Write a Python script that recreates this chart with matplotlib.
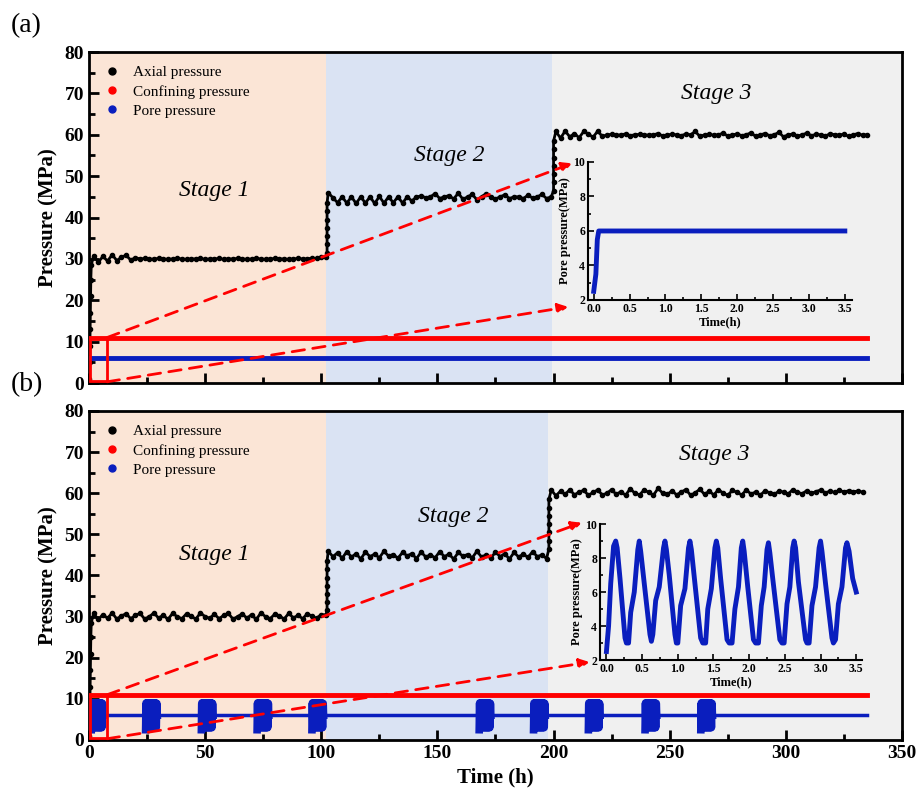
import numpy as np
import matplotlib
matplotlib.use("Agg")
import matplotlib.pyplot as plt
from matplotlib.lines import Line2D
from matplotlib.patches import Rectangle, ConnectionPatch

plt.rcParams["font.family"] = ["Liberation Serif", "DejaVu Serif"]

# ---- data ----
stage_edges_a = [0, 102, 199.5, 350]
stage_edges_b = [0, 102, 197.5, 350]
stage_colors = ["#FBE5D6", "#DAE3F3", "#F0F0F0"]
stage_names = ["Stage 1", "Stage 2", "Stage 3"]
stage_text_a = [(54, 46.5), (155, 55), (270, 70)]
stage_text_b = [(54, 45), (157, 54.3), (269, 69.3)]

confining = 11.0
pore_base = 6.0
t_end = 335

# loading ramp / stage jumps (hours, MPa)
ramp_t = [0.2, 0.3, 0.4, 0.5, 0.6, 0.7, 0.8, 1.0]
ramp_p = [1.0, 5.0, 9.0, 13.0, 17.0, 21.0, 25.0, 28.5]
jump12_p = [31.5, 33.5, 35.5, 37.5, 39.5, 41.5, 43.5]
jump23_p = [46.5, 48.5, 50.5, 52.5, 54.5, 56.5, 58.5]

# axial pressure, panel (a), sampled every 2 h
axial_a_s1 = [30.8, 29.2, 30.6, 29.5, 31.0, 29.6, 30.4, 30.9, 29.7, 30.3,
              30.0, 30.1, 29.9, 30.0, 30.1, 30.0, 29.9, 30.0, 30.1, 30.0,
              29.9, 30.0, 30.0, 30.1, 29.9, 30.0, 30.0, 30.1, 29.9, 30.0,
              30.0, 30.1, 30.0, 29.9, 30.0, 30.1, 30.0, 29.9, 30.0, 30.1,
              30.0, 30.0, 29.9, 30.0, 30.1, 30.0, 30.0, 30.2, 30.1, 30.4, 30.5]
axial_a_s2 = [46.0, 44.8, 43.6, 45.0, 43.5, 45.0, 43.4, 45.0, 43.5, 45.0,
              43.4, 45.1, 43.5, 45.0, 43.6, 45.0, 43.5, 45.0, 44.0, 45.0,
              45.2, 44.8, 45.0, 45.8, 44.6, 45.0, 45.3, 44.5, 45.9, 44.4,
              45.0, 45.6, 44.3, 45.0, 45.8, 45.0, 44.5, 45.0, 45.5, 44.6,
              45.0, 45.0, 44.6, 45.4, 44.7, 45.0, 45.6, 44.6, 45.0]
axial_a_s3 = [60.8, 59.2, 60.9, 59.5, 60.3, 59.3, 60.8, 60.2, 59.4, 60.9,
              59.6, 60.0, 60.1, 59.9, 60.0, 60.2, 59.8, 60.0, 60.1, 60.0,
              59.9, 60.0, 60.3, 59.7, 60.0, 60.1, 60.0, 59.8, 60.2, 60.0,
              60.8, 59.6, 60.0, 60.1, 59.9, 60.0, 60.4, 59.7, 60.0, 60.2,
              59.8, 60.0, 60.5, 59.6, 60.0, 60.3, 59.8, 60.0, 60.6, 59.5,
              60.0, 60.2, 59.7, 60.0, 60.4, 59.8, 60.1, 60.0, 59.6, 60.3,
              60.0, 59.9, 60.2, 59.6, 60.0, 60.3, 59.9, 60.0]

# axial pressure, panel (b), sampled every 2 h
axial_b_s1 = [30.8, 29.3, 30.5, 29.6, 30.9, 29.4, 30.2, 30.7, 29.5, 30.3,
              30.8, 29.4, 30.0, 30.9, 29.6, 30.4, 29.3, 30.8, 30.0, 29.5,
              30.7, 30.1, 29.4, 30.9, 30.0, 29.6, 30.6, 29.5, 30.3, 30.8,
              29.4, 30.0, 30.7, 29.6, 30.5, 29.3, 30.9, 30.0, 29.5, 30.6,
              30.2, 29.4, 30.8, 29.7, 30.3, 29.5, 30.7, 30.1, 29.6, 30.5, 30.4]
axial_b_s2 = [45.9, 44.6, 45.5, 44.2, 45.8, 44.5, 45.3, 44.0, 45.7, 44.6,
              45.2, 44.3, 45.9, 44.7, 45.1, 44.2, 45.6, 44.8, 45.3, 44.1,
              45.7, 44.5, 45.0, 44.3, 45.8, 44.6, 45.2, 44.0, 45.6, 44.7,
              45.1, 44.3, 45.9, 44.5, 45.0, 44.2, 45.7, 44.6, 45.3, 44.0,
              45.6, 44.5, 45.2, 44.4, 45.8, 44.6, 45.0, 44.1]
axial_b_s3 = [60.8, 59.4, 60.5, 59.7, 60.9, 59.6, 60.3, 60.7, 59.5, 60.2,
              60.8, 59.6, 60.0, 60.9, 59.7, 60.4, 59.5, 61.1, 60.0, 59.6,
              60.8, 60.2, 59.5, 61.2, 60.0, 59.7, 60.6, 59.6, 60.3, 60.9,
              59.5, 60.1, 61.0, 59.7, 60.5, 59.6, 60.9, 60.0, 59.5, 60.7,
              60.2, 59.6, 60.8, 59.8, 60.3, 59.5, 60.6, 60.1, 59.7, 60.5,
              60.3, 59.8, 60.9, 60.2, 59.9, 60.6, 60.0, 60.4, 60.8, 60.1,
              60.5, 60.2, 60.7, 60.3, 60.6, 60.4, 60.5, 60.3]

# inset (a): constant pore pressure
inset_a_t = [0.0, 0.03, 0.05, 0.07, 3.5]
inset_a_p = [2.5, 3.5, 5.5, 6.0, 6.0]

# inset (b): cyclic pore pressure
inset_b_t = [0.00, 0.03, 0.06, 0.10, 0.13, 0.15, 0.19, 0.26, 0.28, 0.31,
             0.34, 0.39, 0.44, 0.46, 0.48, 0.53, 0.61, 0.63, 0.65, 0.69,
             0.74, 0.80, 0.82, 0.84, 0.88, 0.96, 0.98, 1.00, 1.04, 1.10,
             1.15, 1.17, 1.19, 1.24, 1.32, 1.35, 1.39, 1.42, 1.47, 1.52,
             1.54, 1.56, 1.60, 1.69, 1.72, 1.76, 1.80, 1.85, 1.89, 1.91,
             1.93, 1.98, 2.06, 2.09, 2.13, 2.17, 2.21, 2.25, 2.27, 2.29,
             2.33, 2.43, 2.46, 2.49, 2.53, 2.57, 2.61, 2.63, 2.65, 2.69,
             2.79, 2.81, 2.84, 2.88, 2.93, 2.98, 3.00, 3.02, 3.07, 3.16,
             3.18, 3.21, 3.25, 3.30, 3.35, 3.37, 3.40, 3.45, 3.50]
inset_b_p = [2.5, 4.0, 6.5, 8.7, 9.0, 8.6, 6.8, 3.3, 3.0, 3.0,
             4.8, 6.0, 8.5, 9.0, 8.4, 6.5, 3.5, 3.1, 3.5, 5.5,
             6.3, 8.6, 9.0, 8.5, 7.0, 3.5, 3.0, 3.0, 5.2, 6.2,
             8.6, 9.0, 8.5, 6.5, 3.3, 3.0, 3.0, 5.0, 6.2, 8.6,
             9.0, 8.6, 6.8, 3.2, 3.0, 3.0, 5.0, 6.3, 8.6, 9.0,
             8.4, 6.3, 3.2, 3.0, 3.0, 5.2, 6.3, 8.5, 8.9, 8.3,
             6.8, 3.2, 3.0, 3.0, 5.3, 6.3, 8.6, 9.0, 8.6, 6.6,
             3.2, 3.0, 3.0, 5.2, 6.3, 8.6, 9.0, 8.4, 6.5, 3.3,
             3.0, 3.2, 5.3, 6.3, 8.6, 8.9, 8.4, 6.8, 6.0]

# start times of the cyclic pore-pressure episodes in panel (b)
burst_start = [1.0, 24.4, 48.4, 72.4, 96.0, 168.0, 191.4, 215.0, 239.4, 263.4]
burst_span = 5.0  # hours covered by one episode on the main time axis

BLUE = "#0A1EBE"
RED = "#FF0000"


def axial_series(s1, s2, s3, jump2, jump3):
    t = list(ramp_t)
    p = list(ramp_p)
    t += list(2 + 2 * np.arange(len(s1)))
    p += s1
    t += [jump2 + 0.5] * len(jump12_p)
    p += jump12_p
    t += list(jump2 + 1 + 2 * np.arange(len(s2)))
    p += s2
    t += [jump3 + 0.5] * len(jump23_p)
    p += jump23_p
    t += list(jump3 + 1.5 + 2 * np.arange(len(s3)))
    p += s3
    t = np.array(t)
    p = np.array(p)
    keep = t <= t_end
    return t[keep], p[keep]


def style_main(ax):
    ax.set_xlim(0, 350)
    ax.set_ylim(0, 80)
    ax.set_yticks(range(0, 81, 10))
    ax.set_yticks(range(0, 81, 5), minor=True)
    ax.set_xticks(range(0, 351, 50))
    ax.set_xticks(range(0, 351, 25), minor=True)
    ax.tick_params(which="both", direction="in", width=2)
    ax.tick_params(which="major", length=7, labelsize=14)
    ax.tick_params(which="minor", length=4)
    for lab in ax.get_xticklabels() + ax.get_yticklabels():
        lab.set_fontweight("bold")
    for s in ax.spines.values():
        s.set_linewidth(2)
    ax.set_ylabel("Pressure (MPa)", fontsize=15, fontweight="bold", labelpad=4)


def style_inset(ax):
    ax.patch.set_alpha(0)
    ax.spines["top"].set_visible(False)
    ax.spines["right"].set_visible(False)
    ax.spines["left"].set_linewidth(1.5)
    ax.spines["bottom"].set_linewidth(1.5)
    ax.set_xlim(-0.08, 3.6)
    ax.set_ylim(2, 10)
    ax.set_xticks(np.arange(0, 3.51, 0.5))
    ax.set_xticks(np.arange(0, 3.51, 0.25), minor=True)
    ax.set_yticks([2, 4, 6, 8, 10])
    ax.set_yticks([3, 5, 7, 9], minor=True)
    ax.tick_params(which="both", direction="in", width=1.2, labelsize=8.5, pad=2)
    ax.tick_params(which="major", length=4)
    ax.tick_params(which="minor", length=2)
    ax.set_xticklabels([f"{v:.1f}" for v in np.arange(0, 3.51, 0.5)])
    for lab in ax.get_xticklabels() + ax.get_yticklabels():
        lab.set_fontweight("bold")
    ax.set_xlabel("Time(h)", fontsize=9, fontweight="bold", labelpad=1)
    ax.set_ylabel("Pore pressure(MPa)", fontsize=9, fontweight="bold", labelpad=2)


def draw_panel(ax, edges, texts, axial, pore_lw):
    for i in range(3):
        ax.axvspan(edges[i], edges[i + 1], color=stage_colors[i], lw=0, zorder=0)
        ax.text(texts[i][0], texts[i][1], stage_names[i], fontsize=17,
                style="italic", ha="center", va="center")
    ax.plot(axial[0], axial[1], color="black", lw=2.0, marker="o", ms=3.0,
            zorder=3)
    ax.plot([0, t_end], [confining, confining], color=RED, lw=3.5, zorder=3)
    ax.plot([0, t_end], [pore_base, pore_base], color=BLUE, lw=pore_lw, zorder=3)
    ax.add_patch(Rectangle((0.4, 0.4), 7.4, confining - 0.4, fill=False,
                           ec=RED, lw=2, zorder=4))
    handles = [Line2D([], [], ls="none", marker="o", ms=5, color=c)
               for c in ["black", RED, BLUE]]
    ax.legend(handles, ["Axial pressure", "Confining pressure", "Pore pressure"],
              loc="upper left", frameon=False, fontsize=11, handletextpad=0.8,
              labelspacing=0.35, borderaxespad=0.5, handlelength=1.2,
              bbox_to_anchor=(0.0, 1.0))


def connect(fig, ax, axin, top_xy, bot_xy):
    for a_xy, b_xy in [((7.8, confining), top_xy), ((7.8, 0.3), bot_xy)]:
        con = ConnectionPatch(xyA=a_xy, coordsA=ax.transData,
                              xyB=b_xy, coordsB=axin.transAxes,
                              arrowstyle="-|>,head_length=0.6,head_width=0.3",
                              color=RED, lw=2, linestyle=(0, (4.5, 3)),
                              zorder=5)
        fig.add_artist(con)


fig = plt.figure(figsize=(9.19, 7.98), dpi=100)
ax_a = fig.add_axes([0.0968, 0.520, 0.8847, 0.4148])
ax_b = fig.add_axes([0.0968, 0.0727, 0.8847, 0.4123])

axial_a = axial_series(axial_a_s1, axial_a_s2, axial_a_s3, 102, 199.5)
axial_b = axial_series(axial_b_s1, axial_b_s2, axial_b_s3, 102, 197.5)

draw_panel(ax_a, stage_edges_a, stage_text_a, axial_a, 3.5)
draw_panel(ax_b, stage_edges_b, stage_text_b, axial_b, 2.5)

for t0 in burst_start:
    ax_b.plot(np.array(inset_b_t) / 3.5 * burst_span + t0, inset_b_p,
              color=BLUE, lw=5.5, solid_joinstyle="round", zorder=3)

style_main(ax_a)
style_main(ax_b)
ax_a.set_xticklabels([])
ax_b.set_xlabel("Time (h)", fontsize=15, fontweight="bold")

ins_a = fig.add_axes([0.6398, 0.6241, 0.2873, 0.1729])
ins_a.plot(inset_a_t, inset_a_p, color=BLUE, lw=3.5)
style_inset(ins_a)

ins_b = fig.add_axes([0.6529, 0.1729, 0.2850, 0.1704])
ins_b.plot(inset_b_t, inset_b_p, color=BLUE, lw=3.5, solid_joinstyle="round")
style_inset(ins_b)
ins_b.set_xlim(-0.09, 3.58)

connect(fig, ax_a, ins_a, (-0.06, 0.99), (-0.075, -0.05))
connect(fig, ax_b, ins_b, (-0.07, 1.01), (-0.04, -0.015))

fig.text(0.012, 0.968, "(a)", fontsize=20, va="center")
fig.text(0.012, 0.518, "(b)", fontsize=20, va="center")

fig.savefig("out.png", dpi=100)
